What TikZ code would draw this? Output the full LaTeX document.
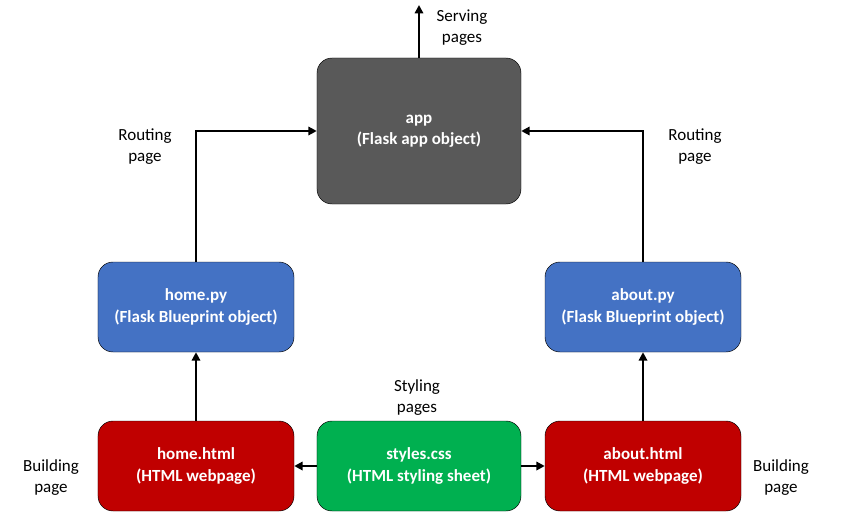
\documentclass[tikz,border=0pt]{standalone}
\usepackage{fontspec}
\setmainfont{Carlito}
\usetikzlibrary{arrows.meta}

\tikzset{
  box/.style={draw=black, rounded corners=0.45cm, text=white, font=\bfseries\fontsize{14.5}{18}\selectfont,
    align=center, inner sep=0pt},
  bigbox/.style={box, minimum width=6.12cm, minimum height=4.38cm},
  smallbox/.style={box, minimum width=5.88cm, minimum height=2.7cm},
  lbl/.style={align=center, font=\fontsize{14.5}{18}\selectfont},
  flow/.style={line width=2.3pt, -{Triangle[length=0.25cm, width=0.25cm]}}
}
\definecolor{appgray}{HTML}{595959}
\definecolor{pyblue}{HTML}{4472C4}
\definecolor{htmlred}{HTML}{C00000}
\definecolor{cssgreen}{HTML}{00B050}

\begin{document}
\begin{tikzpicture}[x=0.03cm, y=-0.03cm]
    \useasboundingbox (0,0) rectangle (858,525);

    \node[bigbox, fill=appgray] (app) at (419,131) {app\\(Flask app object)};

    \node[smallbox, fill=pyblue] (homepy) at (196,307) {home.py\\(Flask Blueprint object)};
    \node[smallbox, fill=pyblue] (aboutpy) at (643,307) {about.py\\(Flask Blueprint object)};

    \node[smallbox, fill=htmlred] (homehtml) at (196,466) {home.html\\(HTML webpage)};
    \node[smallbox, fill=cssgreen, minimum width=6.12cm] (styles) at (419,466) {styles.css\\(HTML styling sheet)};
    \node[smallbox, fill=htmlred] (abouthtml) at (643,466) {about.html\\(HTML webpage)};

    \coordinate (serve) at (419,5);

    \node[lbl] (servelbl) at (462,28) {Serving\\pages};
    \node[lbl] (routeleft) at (145,147) {Routing\\page};
    \node[lbl] (routeright) at (695,147) {Routing\\page};
    \node[lbl] (stylelbl) at (417,398) {Styling\\pages};
    \node[lbl] (buildleft) at (51,478) {Building\\page};
    \node[lbl] (buildright) at (781,478) {Building\\page};

    \draw [flow] (app.north) -- (serve);
    \draw [flow] (homepy.north) |- (app.west);
    \draw [flow] (aboutpy.north) |- (app.east);
    \draw [flow] (homehtml.north) -- (homepy.south);
    \draw [flow] (abouthtml.north) -- (aboutpy.south);
    \draw [flow] (styles.west) -- (homehtml.east);
    \draw [flow] (styles.east) -- (abouthtml.west);

\end{tikzpicture}
\end{document}
